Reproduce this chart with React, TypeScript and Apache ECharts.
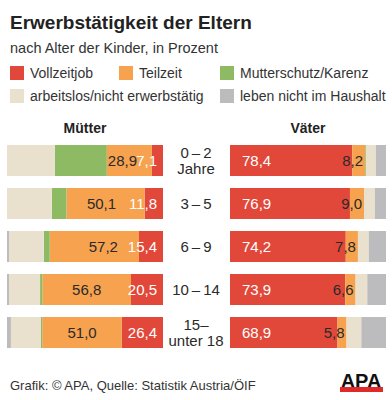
import React, { useEffect, useRef } from "react";
import * as echarts from "echarts";

const categories = ["0\u2009–\u20092\nJahre", "3\u2009–\u20095", "6\u2009–\u20099", "10\u2009–\u200914", "15–\nunter 18"];
const seriesNames = ["Vollzeitjob", "Teilzeit", "Mutterschutz/Karenz", "arbeitslos/nicht erwerbstätig", "leben nicht im Haushalt"];
const colors = ["#e1483a", "#f6a24f", "#8dba63", "#e9e1cd", "#bcbcbe"];

const motherVollzeit = [7.1, 11.8, 15.4, 20.5, 26.4];
const motherTeilzeit = [28.9, 50.1, 57.2, 56.8, 51.0];
const motherKarenz = [33.4, 9.3, 3.8, 1.5, 0.8];
const motherArbeitslos = [30.6, 28.8, 22.3, 19.9, 19.3];
const motherNicht = [0, 0, 1.3, 1.3, 2.5];

const fatherVollzeit = [78.4, 76.9, 74.2, 73.9, 68.9];
const fatherTeilzeit = [8.2, 9.0, 7.8, 6.6, 5.8];
const fatherKarenz = [0.5, 0, 0, 0, 0];
const fatherArbeitslos = [6.4, 7.0, 7.0, 7.5, 9.5];
const fatherNicht = [6.5, 7.1, 11.0, 12.0, 15.8];

const FONT = "'Liberation Sans', Arial, sans-serif";
const fmt = (p: any) => Number(p.value).toFixed(1).replace(".", ",");

export default function App() {
  const ref = useRef<HTMLDivElement>(null);
  useEffect(() => {
    const chart = echarts.init(ref.current!, null, { renderer: "svg" });
    // label nudges for the mothers' part-time values (as placed in the original)
    const teilzeitShift = [-7, -4, 9, 0, 0];
    const mothers: any[] = [
      motherVollzeit,
      motherTeilzeit.map((v, i) => ({ value: v, label: { offset: [teilzeitShift[i], 0] } })),
      motherKarenz, motherArbeitslos, motherNicht,
    ];
    const fathers = [fatherVollzeit, fatherTeilzeit, fatherKarenz, fatherArbeitslos, fatherNicht];
    const noLabel = { show: false };
    const motherLabels: any[] = [
      { show: true, position: "insideRight", distance: 6, color: "#fff", fontSize: 15, fontFamily: FONT, formatter: fmt },
      { show: true, position: "inside", color: "#2a2a2a", fontSize: 15, fontFamily: FONT, formatter: fmt },
      noLabel, noLabel, noLabel,
    ];
    const fatherLabels: any[] = [
      { show: true, position: "insideLeft", distance: 12, color: "#fff", fontSize: 15, fontFamily: FONT, formatter: fmt },
      { show: true, position: "insideRight", distance: 2, color: "#2a2a2a", fontSize: 15, fontFamily: FONT, formatter: fmt },
      noLabel, noLabel, noLabel,
    ];
    const series: any[] = [];
    seriesNames.forEach((name, i) => {
      series.push({
        name, type: "bar", stack: "m", xAxisIndex: 0, yAxisIndex: 0, barWidth: 31,
        itemStyle: { color: colors[i] }, label: motherLabels[i], data: mothers[i],
      });
    });
    seriesNames.forEach((name, i) => {
      series.push({
        name, type: "bar", stack: "f", xAxisIndex: 1, yAxisIndex: 1, barWidth: 31,
        itemStyle: { color: colors[i] }, label: fatherLabels[i], data: fathers[i],
      });
    });
    const legendPos = [
      [10, 66], [119, 66], [220, 66], [10, 89], [220, 89],
    ];
    const legends = seriesNames.map((name, i) => ({
      data: [name], left: legendPos[i][0], top: legendPos[i][1], padding: 0,
      itemWidth: 14, itemHeight: 14, itemGap: 0, icon: "rect", selectedMode: false,
      textStyle: { fontSize: 14, color: "#333", fontFamily: FONT, padding: [0, 0, 0, 1] },
    }));
    chart.setOption({
      animation: false,
      backgroundColor: "#fff",
      textStyle: { fontFamily: FONT },
      legend: legends,
      grid: [
        { left: 7, top: 139, width: 156, height: 215 },
        { left: 230, top: 139, width: 156, height: 215 },
      ],
      xAxis: [
        { type: "value", gridIndex: 0, min: 0, max: 100, inverse: true, show: false },
        { type: "value", gridIndex: 1, min: 0, max: 100, show: false },
      ],
      yAxis: [
        { type: "category", gridIndex: 0, data: categories, inverse: true, axisLine: { show: false }, axisTick: { show: false }, axisLabel: { show: false } },
        {
          type: "category", gridIndex: 1, data: categories, inverse: true,
          axisLine: { show: false }, axisTick: { show: false },
          axisLabel: { align: "center", margin: 34, fontSize: 15, lineHeight: 16, color: "#2a2a2a", fontFamily: FONT },
        },
      ],
      series,
      graphic: [
        { type: "text", left: 10, top: 13, style: { text: "Erwerbstätigkeit der Eltern", font: `bold 19px ${FONT}`, fill: "#222" } },
        { type: "text", left: 10, top: 40, style: { text: "nach Alter der Kinder, in Prozent", font: `14.5px ${FONT}`, fill: "#333" } },
        { type: "text", x: 85, y: 128, style: { text: "Mütter", font: `bold 14px ${FONT}`, fill: "#222", align: "center", verticalAlign: "middle" } },
        { type: "text", x: 308, y: 128, style: { text: "Väter", font: `bold 14px ${FONT}`, fill: "#222", align: "center", verticalAlign: "middle" } },
        { type: "text", x: 10, y: 385, style: { text: "Grafik: © APA, Quelle: Statistik Austria/ÖIF", font: `13px ${FONT}`, fill: "#333", verticalAlign: "middle" } },
        { type: "text", x: 361, y: 381, style: { text: "APA", font: `900 20px ${FONT}`, fill: "#111", align: "center", verticalAlign: "middle" } },
        { type: "rect", shape: { x: 340, y: 387, width: 43, height: 5 }, style: { fill: "#e02a2a" } },
      ],
    });
    return () => chart.dispose();
  }, []);
  return <div ref={ref} style={{ position: "fixed", left: 0, top: 0, width: 392, height: 400 }} />;
}
